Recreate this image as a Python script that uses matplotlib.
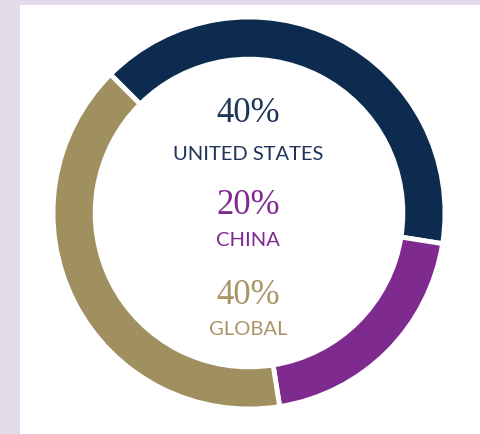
import matplotlib
matplotlib.use("Agg")
import matplotlib.pyplot as plt
from matplotlib.patches import Rectangle

categories = ["UNITED STATES", "CHINA", "GLOBAL"]
values = [40, 20, 40]
pct_labels = ["40%", "20%", "40%"]
colors = ["#0c2b4f", "#7f2a8f", "#a08f5f"]
text_colors = ["#1d3557", "#7f2a8f", "#a99466"]

W, H = 481, 435
fig = plt.figure(figsize=(W / 100, H / 100), dpi=100)
fig.patch.set_facecolor("#e2dcea")
fig.add_artist(Rectangle((20 / W, 0), 1 - 20 / W, (H - 6) / H,
                         transform=fig.transFigure, facecolor="white",
                         edgecolor="none", zorder=0))

cx, cy, R = 249, 214, 196
ax = fig.add_axes([(cx - R) / W, (H - cy - R) / H, 2 * R / W, 2 * R / H])
ax.set_facecolor("none")
ax.pie(values, colors=colors, startangle=135, counterclock=False,
       radius=1.0,
       wedgeprops=dict(width=0.215, edgecolor="white", linewidth=3.5))
ax.set_xlim(-1, 1)
ax.set_ylim(-1, 1)
ax.set_aspect("equal")
ax.axis("off")

def yd(py):
    return (cy - py) / R

pct_y = [114, 206, 296]
lab_y = [154, 241, 330]
for i in range(3):
    ax.text(-1 / R, yd(pct_y[i]), pct_labels[i], ha="center", va="center",
            fontsize=25, family="Liberation Serif", color=text_colors[i])
    ax.text(-1 / R, yd(lab_y[i]), categories[i], ha="center", va="center",
            fontsize=14.5, family="Lato", color=text_colors[i])

fig.savefig("out.png", dpi=100)
